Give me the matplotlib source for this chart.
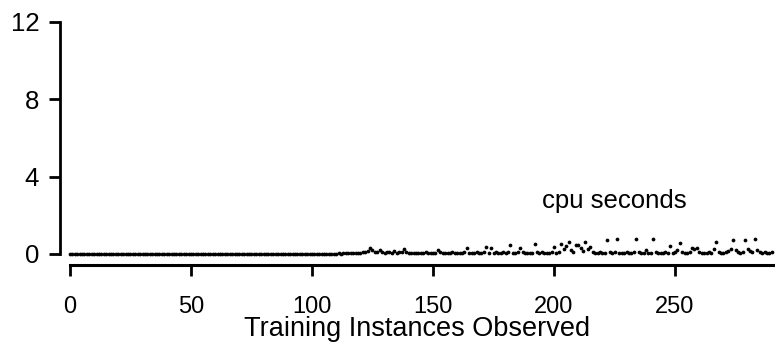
import matplotlib
matplotlib.use("Agg")
import matplotlib.pyplot as plt

# ---- data ----
instances = list(range(0, 291))
cpu_seconds = [
    0.0, 0.0, 0.0, 0.0, 0.0, 0.0, 0.0, 0.0, 0.0, 0.0,   # 0-9
    0.0, 0.0, 0.0, 0.0, 0.0, 0.0, 0.0, 0.0, 0.0, 0.0,   # 10-19
    0.0, 0.0, 0.0, 0.0, 0.0, 0.0, 0.0, 0.0, 0.0, 0.0,   # 20-29
    0.0, 0.0, 0.0, 0.0, 0.0, 0.0, 0.0, 0.0, 0.0, 0.0,   # 30-39
    0.0, 0.0, 0.0, 0.0, 0.0, 0.0, 0.0, 0.0, 0.0, 0.0,   # 40-49
    0.0, 0.0, 0.0, 0.0, 0.0, 0.0, 0.0, 0.0, 0.0, 0.0,   # 50-59
    0.0, 0.0, 0.0, 0.0, 0.0, 0.0, 0.0, 0.0, 0.0, 0.0,   # 60-69
    0.0, 0.0, 0.0, 0.0, 0.0, 0.0, 0.0, 0.0, 0.0, 0.0,   # 70-79
    0.0, 0.0, 0.0, 0.0, 0.0, 0.0, 0.0, 0.0, 0.0, 0.0,   # 80-89
    0.0, 0.0, 0.0, 0.0, 0.0, 0.0, 0.0, 0.0, 0.0, 0.0,   # 90-99
    0.0, 0.0, 0.0, 0.0, 0.0, 0.0, 0.0, 0.0, 0.0, 0.0,   # 100-109
    0.02, 0.03, 0.02, 0.04, 0.03, 0.05, 0.04, 0.06, 0.05, 0.07,
    0.06, 0.10, 0.08, 0.15, 0.30, 0.20, 0.12, 0.08, 0.22, 0.10,
    0.06, 0.08, 0.12, 0.07, 0.15, 0.05, 0.10, 0.08, 0.25, 0.12,
    0.06, 0.05, 0.07, 0.06, 0.05, 0.06, 0.05, 0.08, 0.06, 0.07,
    0.05, 0.06, 0.22, 0.08, 0.06, 0.07, 0.05, 0.06, 0.08, 0.05,
    0.06, 0.07, 0.05, 0.08, 0.30, 0.06, 0.05, 0.07, 0.10, 0.06,
    0.05, 0.08, 0.35, 0.06, 0.30, 0.07, 0.10, 0.06, 0.05, 0.08,
    0.06, 0.12, 0.45, 0.07, 0.06, 0.10, 0.30, 0.08, 0.06, 0.05,
    0.07, 0.06, 0.50, 0.08, 0.06, 0.10, 0.07, 0.05, 0.06, 0.08,
    0.35, 0.07, 0.10, 0.50, 0.25, 0.40, 0.60, 0.20, 0.10, 0.45,
    0.45, 0.30, 0.15, 0.60, 0.25, 0.35, 0.08, 0.06, 0.07, 0.10,
    0.06, 0.05, 0.70, 0.08, 0.06, 0.10, 0.80, 0.07, 0.05, 0.06,
    0.08, 0.06, 0.07, 0.12, 0.80, 0.10, 0.06, 0.05, 0.20, 0.07,
    0.06, 0.75, 0.10, 0.06, 0.07, 0.05, 0.08, 0.06, 0.40, 0.07,
    0.10, 0.20, 0.55, 0.08, 0.06, 0.07, 0.10, 0.30, 0.25, 0.30,
    0.08, 0.06, 0.07, 0.05, 0.10, 0.06, 0.25, 0.60, 0.08, 0.06,
    0.07, 0.10, 0.15, 0.25, 0.70, 0.20, 0.08, 0.06, 0.10, 0.70,
    0.25, 0.15, 0.08, 0.75, 0.20, 0.10, 0.06, 0.08, 0.07, 0.06,
    0.08,
]
x_ticks = [0, 50, 100, 150, 200, 250]
y_ticks = [0, 4, 8, 12]
x_label = "Training Instances Observed"
series_label = "cpu seconds"

plt.rcParams["font.family"] = ["Liberation Sans", "DejaVu Sans"]

fig = plt.figure(figsize=(7.75, 3.49), dpi=100)
ax = fig.add_axes([60 / 775, 1 - 265 / 349, 715 / 775, (265 - 20) / 349])

ax.plot(instances, cpu_seconds, linestyle="none", marker="o",
        markersize=2.7, color="black", markeredgewidth=0)

ax.set_xlim(-4.1, 291.3)
ax.set_ylim(-0.57, 12.1)

for s in ["top", "right"]:
    ax.spines[s].set_visible(False)
ax.spines["left"].set_bounds(0, 12)
ax.spines["bottom"].set_bounds(0, 291.3)
ax.spines["left"].set_linewidth(2)
ax.spines["bottom"].set_linewidth(2.2)

ax.set_xticks(x_ticks)
ax.set_yticks(y_ticks)
ax.tick_params(axis="both", direction="out", length=8, width=2, colors="black")
ax.tick_params(axis="y", pad=7, labelsize=18.5)
ax.tick_params(axis="x", pad=14, labelsize=17)

ax.set_xlabel(x_label, fontsize=19.5, labelpad=-1)
ax.text(224.8, 2.38, series_label, fontsize=18.5, ha="center", va="baseline")

fig.savefig("out.png", dpi=100)
